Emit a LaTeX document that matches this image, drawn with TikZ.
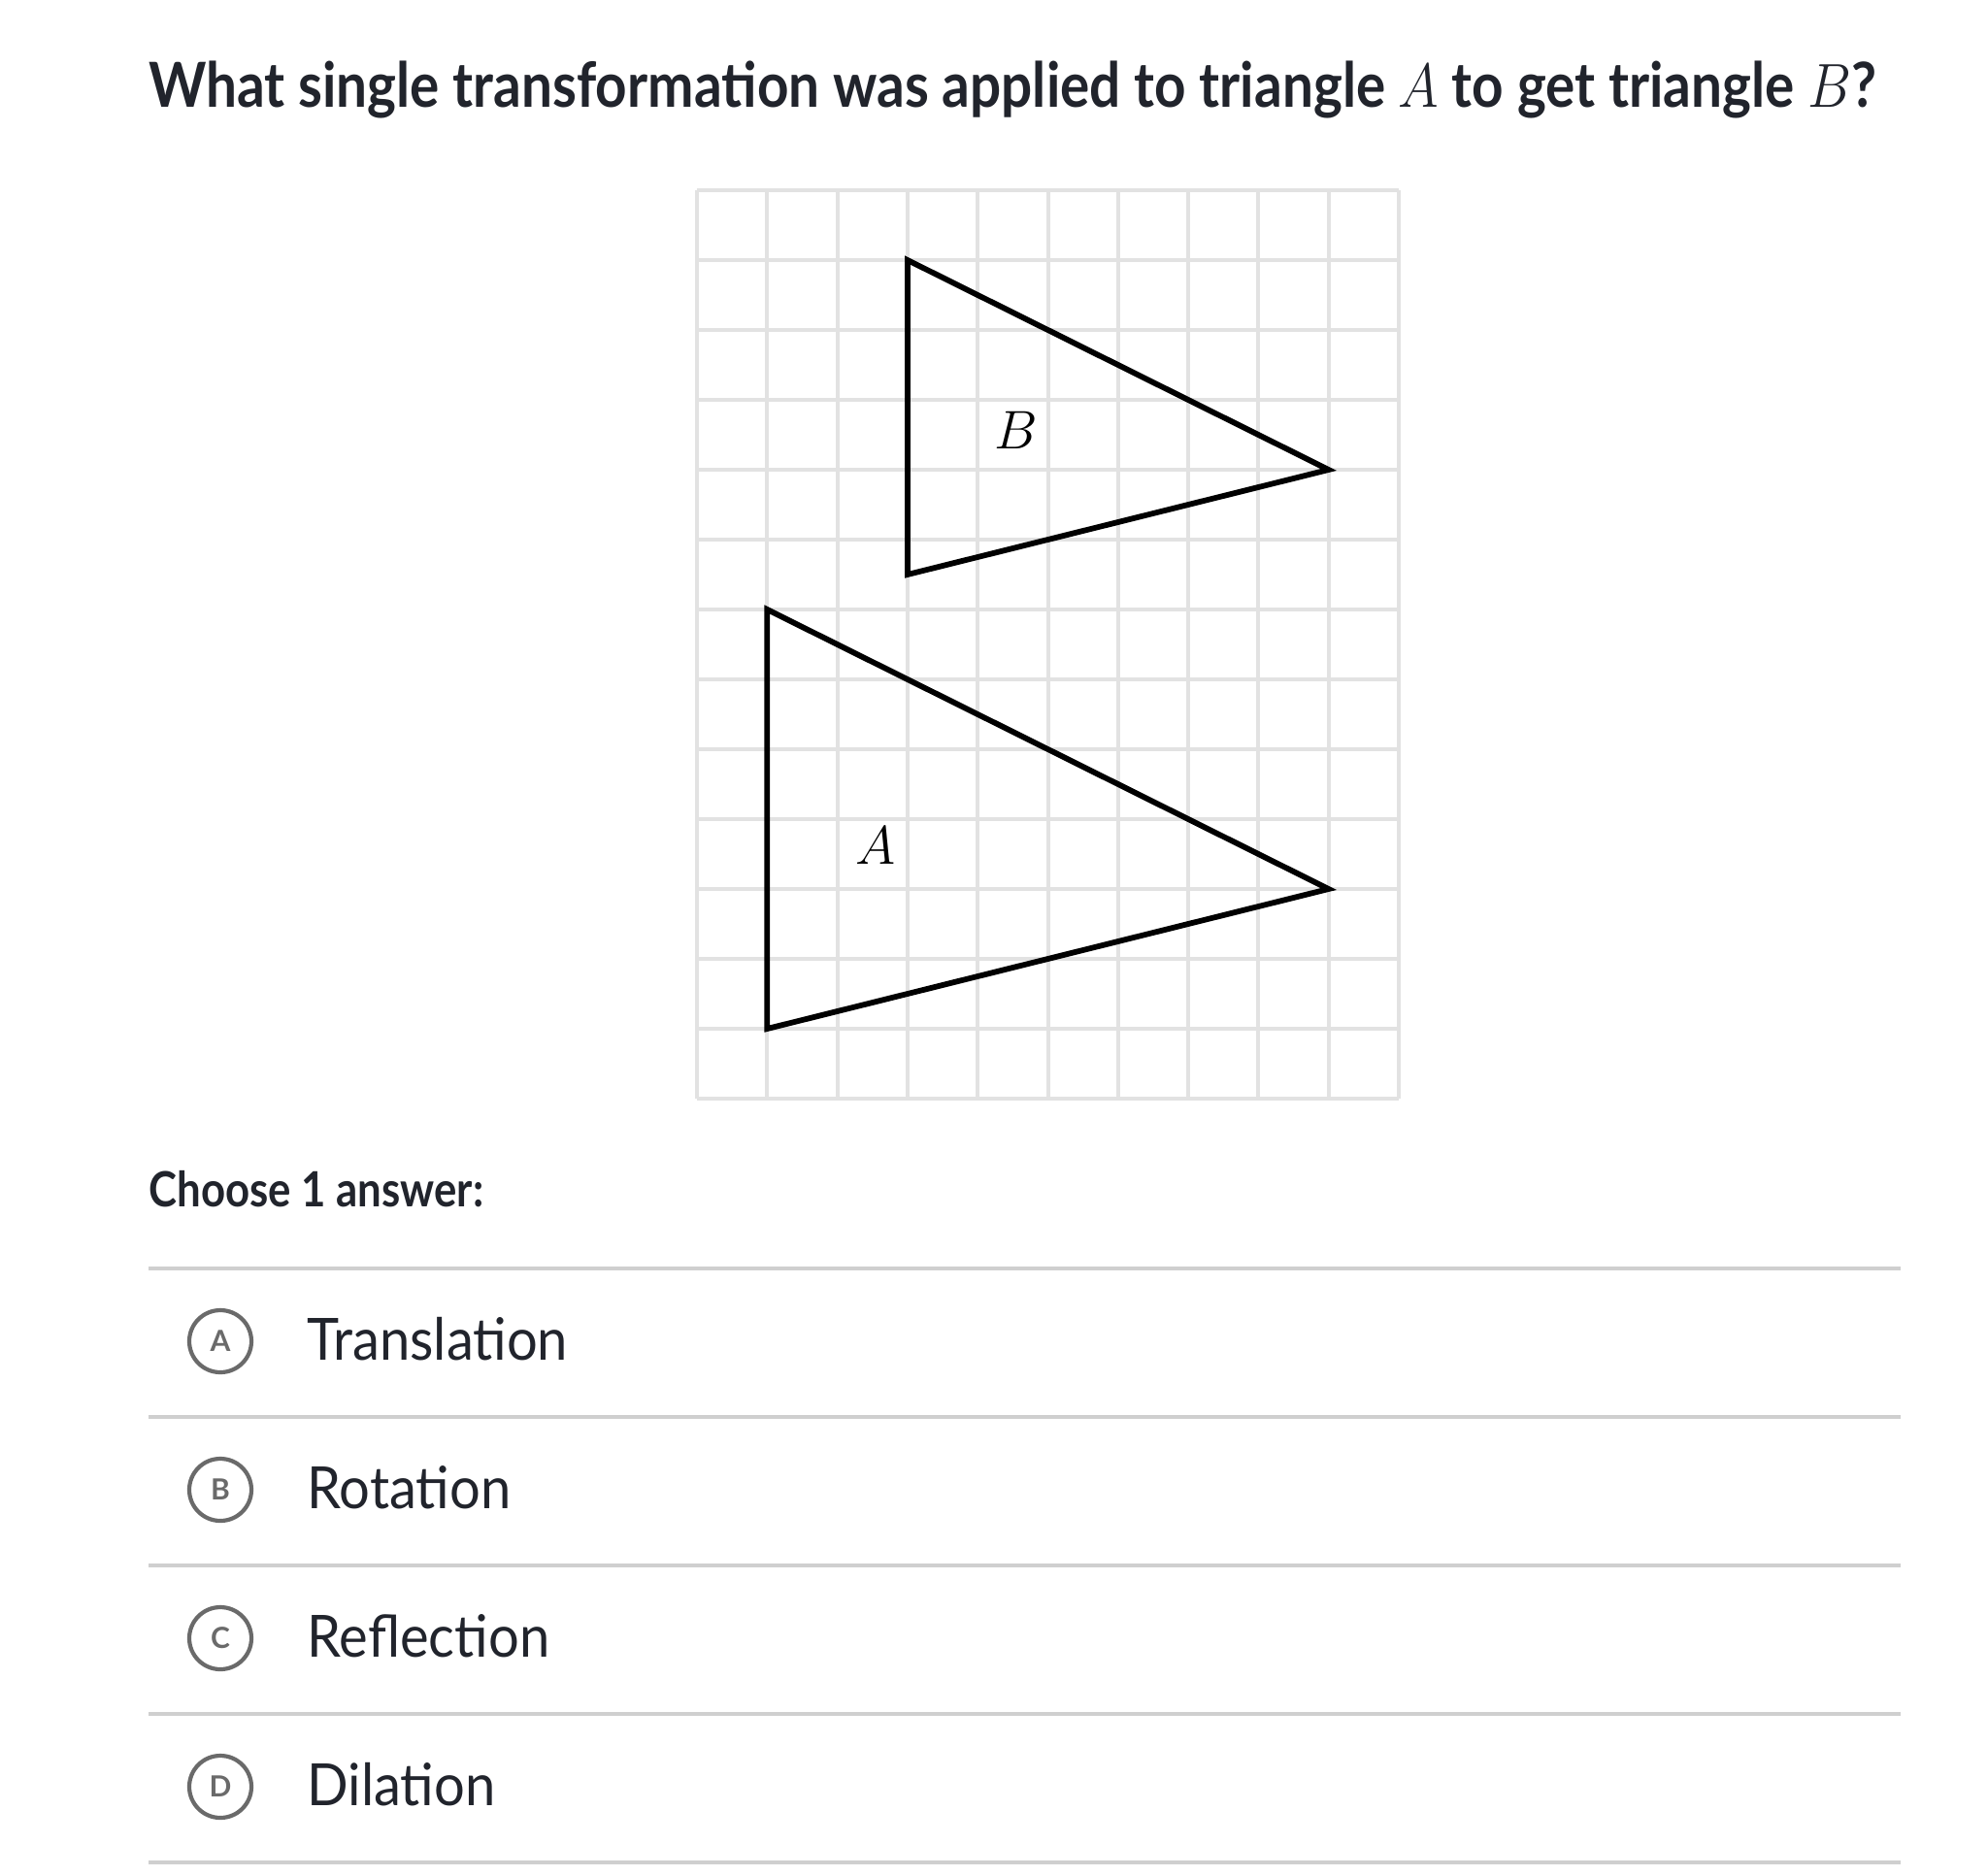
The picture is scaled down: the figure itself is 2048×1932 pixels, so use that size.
\RequirePackage{fix-cm}
\documentclass[tikz,border=0pt]{standalone}
\usepackage{fontspec}
\setmainfont{Lato}
\definecolor{ink}{HTML}{21242C}
\definecolor{gridc}{HTML}{E2E2E2}
\definecolor{sepc}{HTML}{CFCFCF}
\definecolor{optc}{HTML}{6A6A6A}
\begin{document}
\begin{tikzpicture}[x=0.5pt,y=-0.5pt,
  gridline/.style={draw=gridc,line width=2pt},
  tri/.style={draw=black,line width=2.9pt,line join=miter},
  sep/.style={draw=sepc,line width=1.6pt},
  optcircle/.style={circle,draw=optc,line width=2.1pt,minimum size=32pt,inner sep=0pt,text=optc,font=\bfseries\fontsize{15}{17}\selectfont},
  opttext/.style={anchor=base west,text=ink,inner sep=0pt,font=\fontsize{30}{36}\selectfont},
  trilabel/.style={inner sep=0pt,font=\fontsize{28}{32}\selectfont}]
\fill[white] (0,0) rectangle (2048,1932);
\useasboundingbox (0,0) rectangle (2048,1932);

% title
\node[anchor=base west,inner sep=0pt,text=ink,font=\bfseries\fontsize{32}{38}\selectfont] (title) at (153,111)
  {\scalebox{0.885}[1]{What single transformation was applied to triangle $A$ to get triangle $B$?}};

% grid
\begin{scope}[shift={(718,196)},x=36.15pt,y=-36pt]
  \foreach \i in {0,...,10} \draw[gridline] (\i,0) -- (\i,13);
  \foreach \j in {0,...,13} \draw[gridline] (0,\j) -- (10,\j);
  \coordinate (b1) at (3,1);
  \coordinate (b2) at (9,4);
  \coordinate (b3) at (3,5.5);
  \coordinate (a1) at (1,6);
  \coordinate (a2) at (9,10);
  \coordinate (a3) at (1,12);
  \draw[tri] (b1) -- (b2) -- (b3) -- cycle;
  \draw[tri] (a1) -- (a2) -- (a3) -- cycle;
  \node[trilabel] (labB) at (4.55,3.44) {$B$};
  \node[trilabel] (labA) at (2.54,9.38) {$A$};
\end{scope}

% choose
\node[anchor=base west,inner sep=0pt,text=ink,font=\bfseries\fontsize{25}{30}\selectfont] (choose) at (153,1243)
  {\scalebox{0.875}[1]{Choose 1 answer:}};

% separators
\foreach \y/\n in {1307/s1,1460/s2,1613/s3,1766/s4,1919/s5} {
  \coordinate (\n l) at (153,\y);
  \coordinate (\n r) at (1958,\y);
  \draw[sep] (\n l) -- (\n r);
}

% options
\node[optcircle] (ca) at (227,1382) {A};
\node[opttext] (ta) at (316,1401) {\scalebox{0.935}[1]{Translation}};
\node[optcircle] (cb) at (227,1535) {B};
\node[opttext] (tb) at (316,1554) {\scalebox{0.935}[1]{Rotation}};
\node[optcircle] (cc) at (227,1688) {C};
\node[opttext] (tc) at (316,1707) {\scalebox{0.935}[1]{Reflection}};
\node[optcircle] (cd) at (227,1841) {D};
\node[opttext] (td) at (316,1860) {\scalebox{0.935}[1]{Dilation}};
\end{tikzpicture}
\end{document}
